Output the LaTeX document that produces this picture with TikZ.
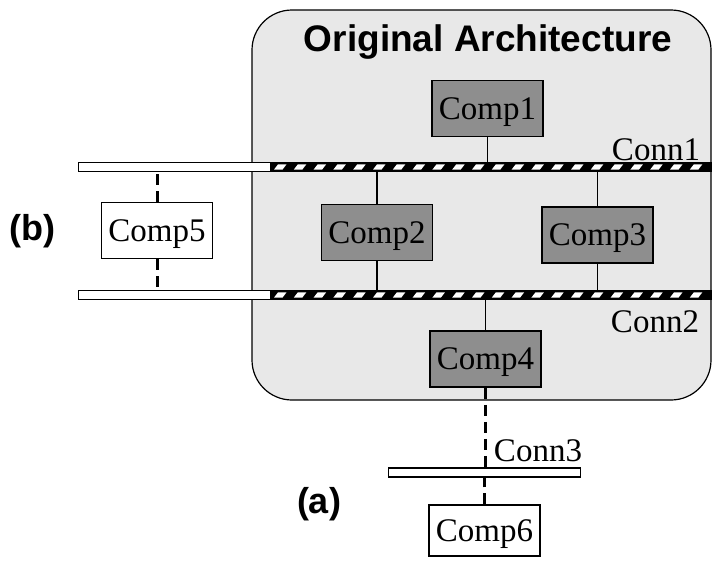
\documentclass[tikz,border=0pt]{standalone}
\usepackage{fontspec}
\newfontfamily\serifc{Liberation Serif}
\newfontfamily\sansc{Liberation Sans}
\definecolor{archbg}{HTML}{E8E8E8}
\definecolor{compfill}{HTML}{8E8E8E}
\tikzset{
  comp/.style={draw=black, line width=1.5pt, minimum width=111pt, minimum height=56pt, inner sep=0pt, text depth=0pt, font=\serifc\fontsize{33}{33}\selectfont},
  ocomp/.style={comp, fill=compfill},
  ncomp/.style={comp, fill=white},
  whitebar/.style={draw=black, fill=white, line width=1.1pt, minimum height=9pt, inner sep=0pt, anchor=west},
  blackbar/.style={draw=black, fill=black, line width=1.1pt, minimum height=9pt, inner sep=0pt, anchor=west},
  conlabel/.style={font=\serifc\fontsize{33}{33}\selectfont, inner sep=0pt},
  tagtext/.style={font=\sansc\bfseries\fontsize{36}{36}\selectfont, inner sep=0pt},
  link/.style={line width=1.3pt},
  newlink/.style={line width=3pt, dash pattern=on 11pt off 6pt}
}
\begin{document}
\begin{tikzpicture}[x=1pt, y=-1pt]
\useasboundingbox (0,0) rectangle (713,562);
% original architecture frame
\node[draw=black, line width=1.2pt, fill=archbg, rounded corners=40pt, minimum width=459pt, minimum height=390pt, inner sep=0pt] (arch) at (481.5,205) {};
\node[font=\sansc\bfseries\fontsize{37}{37}\selectfont, inner sep=0pt] (title) at (488,42) {Original Architecture};
% connectors (bars)
\node[whitebar, minimum width=192pt] (c1w) at (78,167) {};
\node[blackbar, minimum width=441pt] (c1h) at (270,167) {};
\node[whitebar, minimum width=192pt] (c2w) at (78,295) {};
\node[blackbar, minimum width=441pt] (c2h) at (270,295) {};
\foreach \cy in {167,295}{
  \foreach \i in {0,...,21}{
    \pgfmathsetmacro{\xx}{274+19.8*\i}
    \fill[white] (\xx,\cy+2.6) -- ++(8.5,0) -- ++(4,-5.2) -- ++(-8.5,0) -- cycle;
  }
}
\node[whitebar, minimum width=192pt] (c3) at (388,472.5) {};
% labels
\node[conlabel] (l1) at (656,149.5) {Conn1};
\node[conlabel] (l2) at (655,322) {Conn2};
\node[conlabel] (l3) at (538,451) {Conn3};
\node[tagtext] (tb) at (32,231) {(b)};
\node[tagtext] (ta) at (319,504) {(a)};
% components
\node[ocomp] (comp1) at (487.5,108.5) {Comp1};
\node[ocomp] (comp2) at (377,232.5) {Comp2};
\node[ocomp] (comp3) at (597.5,235) {Comp3};
\node[ocomp] (comp4) at (485.5,359) {Comp4};
\node[ncomp] (comp5) at (157,230.5) {Comp5};
\node[ncomp, minimum height=51pt] (comp6) at (484.5,530.5) {Comp6};
% links
\draw[link] (comp1.south) -- (comp1.south |- c1h.north);
\draw[link] (comp2.north) -- (comp2.north |- c1h.south);
\draw[link] (comp2.south) -- (comp2.south |- c2h.north);
\draw[link] (comp3.north) -- (comp3.north |- c1h.south);
\draw[link] (comp3.south) -- (comp3.south |- c2h.north);
\draw[link] (comp4.north) -- (comp4.north |- c2h.south);
\draw[newlink] (comp5.north) -- (comp5.north |- c1w.south);
\draw[newlink] (comp5.south) -- (comp5.south |- c2w.north);
\draw[newlink] (comp4.south) -- (comp4.south |- c3.north);
\draw[newlink] (comp6.north) -- (comp6.north |- c3.south);
\end{tikzpicture}
\end{document}
